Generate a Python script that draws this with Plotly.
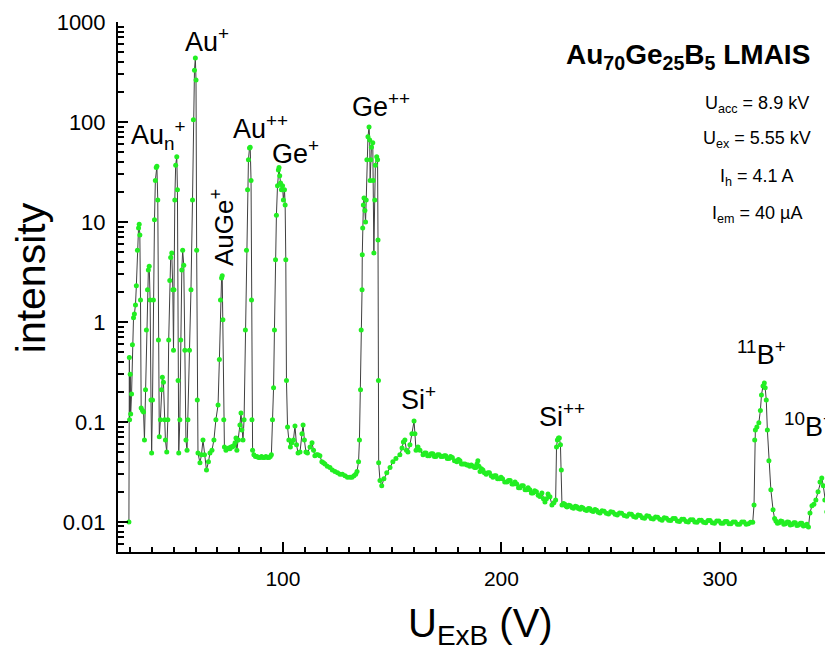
import math
import plotly.graph_objects as go

# ---- spectrum data (U_ExB in V, intensity) ----
aun_x = [29.5, 29.7, 29.8, 30.1, 30.3, 30.7, 31.1, 31.6, 32.0, 32.5, 32.9, 33.4, 33.9, 34.2, 34.5,
         34.8, 35.1, 35.7, 36.2, 36.6, 37.1, 37.5, 38.0, 38.4, 38.8, 39.2, 39.6, 39.9, 40.3, 40.7,
         41.2, 41.6, 42.0, 42.3, 42.7, 43.0, 43.4, 43.9, 44.4, 44.8, 45.3, 45.8, 46.2, 46.8, 47.3,
         47.7, 48.2, 48.6, 49.1, 49.6, 49.9, 50.1, 50.5, 50.9, 51.4, 51.7, 52.0, 52.3, 52.8, 53.2,
         53.7, 54.1, 54.6, 55.1, 55.6, 56.1, 56.5, 57.2, 57.9, 58.6, 59.0, 59.5, 59.9, 60.2, 60.5,
         60.8, 61.1]
aun_y = [0.01, 0.44, 0.105, 0.3, 0.12, 0.19, 0.59, 1.1, 1.2, 1.48, 2.3, 5.2, 8.7, 9.5, 7.4,
         1.66, 0.138, 0.13, 0.126, 0.066, 0.21, 0.83, 2.1, 3.3, 3.6, 1.66, 0.166, 0.049, 0.166, 1.66,
         10.5, 26, 35, 36, 16.6, 0.66, 0.071, 0.105, 0.21, 0.28, 0.25, 0.105, 0.066, 0.05, 0.105,
         0.66, 2.6, 4.4, 4.9, 2.1, 0.52, 2.1, 16.6, 37, 45, 21, 0.26, 0.049, 0.105, 0.66,
         3.3, 5.2, 3.7, 0.52, 0.066, 0.052, 0.105, 0.52, 2.1, 16.6, 105, 330, 437, 263, 5.2,
         0.166, 0.049]

auge_x = [62.0, 62.7, 63.4, 64.1, 65.0, 65.9, 66.6, 67.5, 68.4, 69.3, 70.3, 70.9, 71.4, 71.9, 72.2,
          72.5, 72.9, 73.2, 73.9, 74.5, 75.2, 75.7, 76.2, 76.7, 77.2, 77.6, 78.1, 78.5, 78.9, 79.6,
          80.3, 80.8, 81.2, 81.7, 82.2, 82.8, 83.3, 83.8, 84.2, 84.7, 85.0, 85.4, 85.6, 85.8, 86.1]
auge_y = [0.039, 0.047, 0.066, 0.047, 0.033, 0.04, 0.049, 0.052, 0.066, 0.105, 0.148, 0.42, 1.66, 2.75, 2.9,
          1.05, 0.105, 0.056, 0.052, 0.054, 0.055, 0.054, 0.056, 0.056, 0.057, 0.058, 0.062, 0.069, 0.052, 0.066,
          0.093, 0.123, 0.083, 0.066, 0.105, 0.83, 5.2, 21, 42, 55, 56, 26, 1.66, 0.105, 0.052]

ge1_x = [86.7, 87.4, 88.1, 88.8, 89.5, 90.2, 90.8, 91.5, 92.2, 92.9, 93.6, 94.2, 94.7, 95.2, 95.7,
         96.1, 96.6, 97.0, 97.5, 97.9, 98.2, 98.5, 98.9, 99.3, 99.8, 100.2, 100.7, 101.0, 101.3, 101.6]
ge1_y = [0.047, 0.045, 0.045, 0.044, 0.044, 0.045, 0.044, 0.044, 0.045, 0.044, 0.044, 0.045, 0.047, 0.105, 0.22,
         0.83, 4.2, 11.7, 23, 33, 35, 29, 24.5, 21, 23, 16.6, 21, 14.8, 4.2, 0.26]

tail_x = [102.1, 102.7, 103.4, 104.1, 104.8, 105.5, 106.2, 106.9, 107.8, 108.7, 109.2, 109.8, 110.5,
          111.2, 112.4, 113.3, 114.0, 114.6, 115.3, 116.0, 116.9, 117.8, 118.5, 119.2, 120.3, 121.5,
          122.6, 123.8, 125.0, 126.1, 127.2, 128.4, 129.5, 130.7, 131.6, 132.5, 133.3, 133.9, 134.6]
tail_y = [0.089, 0.066, 0.056, 0.062, 0.066, 0.091, 0.059, 0.049, 0.05, 0.076, 0.093, 0.066, 0.05,
          0.049, 0.056, 0.062, 0.052, 0.046, 0.047, 0.047, 0.046, 0.04, 0.039, 0.038, 0.036, 0.035,
          0.033, 0.032, 0.031, 0.030, 0.030, 0.029, 0.028, 0.028, 0.028, 0.029, 0.030, 0.032, 0.04]

ge2_x = [135.0, 135.5, 135.8, 136.2, 136.3, 136.5, 136.8, 137.1, 137.5, 137.8, 138.1, 138.4, 138.9, 139.4,
         139.7, 139.9, 140.2, 140.5, 141.1, 141.3, 141.6, 142.0, 142.3, 142.9, 143.3, 143.5, 143.7, 143.8,
         144.4, 145.2, 146.2, 147.5, 149.0, 150.3, 151.7, 153.5, 154.5, 155.1, 155.8, 156.5, 157.2, 158.1,
         159.0, 160.0, 160.4, 160.9, 161.8, 162.7]
ge2_y = [0.066, 0.21, 0.83, 2.1, 4.7, 8.7, 14.8, 17.4, 13, 10, 16.6, 42, 71, 89,
         66, 26, 42, 56, 62, 26, 4.9, 16.6, 37, 45, 42, 6.6, 0.26, 0.039,
         0.026, 0.023, 0.027, 0.031, 0.035, 0.04, 0.043, 0.047, 0.055, 0.063, 0.066, 0.052, 0.05, 0.059,
         0.076, 0.102, 0.076, 0.052, 0.056, 0.052]

# noisy background between Si+ and Si++  (x, intensity)
base1 = [(164.1, 0.047), (164.8, 0.049), (165.5, 0.049), (166.2, 0.046), (167.0, 0.046), (167.8, 0.048),
         (168.6, 0.048), (169.3, 0.045), (170.0, 0.045), (170.7, 0.047), (171.5, 0.047), (172.3, 0.045),
         (173.2, 0.045), (173.8, 0.046), (174.5, 0.046), (175.2, 0.043), (176.0, 0.043), (176.7, 0.045),
         (177.5, 0.044), (178.5, 0.041), (179.6, 0.040), (180.3, 0.042), (181.0, 0.041), (181.7, 0.038),
         (182.5, 0.038), (183.3, 0.038), (184.2, 0.037), (184.8, 0.037), (185.5, 0.036), (186.2, 0.037),
         (187.0, 0.036), (187.7, 0.035), (188.3, 0.035), (188.8, 0.038), (189.2, 0.041), (189.7, 0.036),
         (190.2, 0.032), (190.8, 0.034), (191.5, 0.033), (192.2, 0.031), (193.0, 0.030), (193.8, 0.031),
         (194.5, 0.031), (195.3, 0.029), (196.1, 0.028), (196.8, 0.029), (197.5, 0.029), (198.2, 0.027),
         (199.0, 0.027), (199.8, 0.028), (200.5, 0.027), (201.5, 0.025), (202.5, 0.025), (203.2, 0.026),
         (204.0, 0.026), (204.8, 0.024), (205.5, 0.024), (206.2, 0.025), (207.0, 0.024), (207.8, 0.022),
         (208.5, 0.022), (209.2, 0.023), (210.0, 0.023), (210.8, 0.021), (211.5, 0.021), (212.2, 0.022),
         (213.0, 0.021), (213.7, 0.0195), (214.4, 0.0195), (215.2, 0.0205), (216.0, 0.0200), (216.8, 0.0185),
         (217.6, 0.018), (218.5, 0.0195), (219.2, 0.017), (219.9, 0.0158), (220.6, 0.017), (221.3, 0.019),
         (222.2, 0.0178), (223.1, 0.0148), (224.0, 0.0155), (224.8, 0.0166)]

# Si++ peak and background up to the 11B peak  (x, intensity)
base2 = [(225.2, 0.056), (225.6, 0.066), (226.1, 0.069), (226.5, 0.069), (227.0, 0.059), (227.4, 0.033),
         (227.7, 0.0148), (228.4, 0.0153), (229.0, 0.0150), (229.5, 0.0144), (230.0, 0.0141), (230.8, 0.0147),
         (231.5, 0.0145), (232.2, 0.0139), (233.0, 0.0137), (233.8, 0.0143), (234.5, 0.0142), (235.2, 0.0136),
         (236.0, 0.0134), (236.6, 0.0140), (237.3, 0.0138), (238.2, 0.0132), (239.0, 0.0130), (239.8, 0.0136),
         (240.5, 0.0135), (241.2, 0.0129), (242.0, 0.0127), (242.8, 0.0133), (243.5, 0.0131), (244.3, 0.0125),
         (245.1, 0.0123), (246.0, 0.0129), (247.0, 0.0128), (248.0, 0.0122), (249.0, 0.0120), (250.0, 0.0126),
         (251.0, 0.0125), (252.0, 0.0119), (253.0, 0.0117), (254.0, 0.0123), (255.0, 0.0122), (256.2, 0.0116),
         (257.4, 0.0114), (258.5, 0.0120), (259.5, 0.0119), (260.5, 0.0113), (261.5, 0.0111), (262.5, 0.0117),
         (263.5, 0.0116), (264.5, 0.0110), (265.5, 0.0109), (266.5, 0.0115), (267.5, 0.0114), (268.5, 0.0108),
         (269.5, 0.0107), (270.5, 0.0112), (271.5, 0.0111), (272.5, 0.0106), (273.5, 0.0104), (274.5, 0.0110),
         (275.5, 0.0109), (276.5, 0.0104), (277.5, 0.0103), (278.5, 0.0108), (279.5, 0.0108), (280.5, 0.0102),
         (281.5, 0.0101), (282.5, 0.0106), (283.5, 0.0106), (284.5, 0.0101), (285.5, 0.0100), (286.5, 0.0105),
         (287.6, 0.0105), (288.5, 0.0100), (289.5, 0.0099), (290.5, 0.0104), (291.5, 0.0104), (292.5, 0.0099),
         (293.5, 0.0098), (294.5, 0.0103), (295.5, 0.0103), (296.5, 0.0098), (297.5, 0.0097), (298.5, 0.0102),
         (299.5, 0.0102), (300.5, 0.0097), (301.5, 0.0097), (302.3, 0.0101), (303.2, 0.0101), (304.1, 0.0096),
         (305.0, 0.0096), (306.0, 0.0100), (307.0, 0.0100), (308.0, 0.0095), (309.0, 0.0095), (310.0, 0.0100),
         (311.0, 0.0100), (312.0, 0.0095), (313.0, 0.0096), (314.0, 0.0099), (315.0, 0.0099)]

# 11B and 10B peaks  (x, intensity)
boron = [(315.6, 0.0148), (315.9, 0.066), (316.2, 0.083), (316.9, 0.089), (317.8, 0.098), (318.5, 0.13),
         (319.0, 0.186), (319.7, 0.229), (320.3, 0.245), (320.7, 0.22), (321.2, 0.166), (321.7, 0.083),
         (322.4, 0.041), (323.3, 0.021), (324.3, 0.0132), (325.0, 0.0108), (325.6, 0.0102), (326.3, 0.0097),
         (327.0, 0.0098), (327.8, 0.0102), (328.5, 0.0101), (329.2, 0.0095), (330.0, 0.0096), (330.8, 0.0100),
         (331.5, 0.0099), (332.2, 0.0093), (333.0, 0.0094), (333.8, 0.0098), (334.5, 0.0098), (335.2, 0.0092),
         (336.0, 0.0093), (336.8, 0.0097), (337.5, 0.0097), (338.2, 0.0091), (339.0, 0.0092), (339.8, 0.0095),
         (340.5, 0.0089), (341.2, 0.0123), (342.1, 0.0145), (343.0, 0.015), (343.9, 0.0166), (344.9, 0.02),
         (345.8, 0.025), (346.6, 0.0275), (347.3, 0.023), (348.0, 0.0166), (348.9, 0.0126), (349.8, 0.01),
         (350.7, 0.0105), (351.6, 0.0098), (352.8, 0.0096), (354.0, 0.0094)]

base1_x, base1_y = [p[0] for p in base1], [p[1] for p in base1]
base2_x, base2_y = [p[0] for p in base2], [p[1] for p in base2]
boron_x, boron_y = [p[0] for p in boron], [p[1] for p in boron]

# peak labels: (text, x, intensity)
peak_labels = [
    ("Au<sup>+</sup>", 65.2, 661),
    ("Au<sub>n</sub><sup>+</sup>", 43.0, 74),
    ("Au<sup>++</sup>", 89.5, 89),
    ("Ge<sup>+</sup>", 105.9, 50),
    ("Ge<sup>++</sup>", 144.9, 148),
    ("Si<sup>+</sup>", 162.2, 0.174),
    ("Si<sup>++</sup>", 227.7, 0.117),
    ("<sup>11</sup>B<sup>+</sup>", 319.2, 0.49),
]
auge_label = ("AuGe<sup>+</sup>", 72.1, 8.7)
b10_label = ("<sup>10</sup>B<sup>+</sup>", 328.3, 0.093)

title_text = "<b>Au<sub>70</sub>Ge<sub>25</sub>B<sub>5</sub> LMAIS</b>"
param_texts = ["U<sub>acc</sub> = 8.9 kV", "U<sub>ex</sub> = 5.55 kV",
               "I<sub>h</sub> = 4.1 A", "I<sub>em</sub> = 40 µA"]

y_tick_vals = [0.01, 0.1, 1, 10, 100, 1000]
y_tick_text = ["0.01", "0.1", "1", "10", "100", "1000"]
x_tick_vals = [100, 200, 300]

xs = aun_x + auge_x + ge1_x + tail_x + ge2_x + base1_x + base2_x + boron_x
ys = aun_y + auge_y + ge1_y + tail_y + ge2_y + base1_y + base2_y + boron_y

FONT = "Liberation Sans, Arial, sans-serif"

fig = go.Figure()
fig.add_trace(go.Scatter(
    x=xs, y=ys, mode="lines+markers",
    line=dict(color="#404040", width=1),
    marker=dict(color="#22ee22", size=5, line=dict(width=0)),
    showlegend=False, hoverinfo="x+y",
))

minor_y = [m * 10 ** e for e in range(-3, 3) for m in range(2, 10)]
minor_y = [v for v in minor_y if 0.005 <= v <= 1000]
minor_x = [v for v in range(30, 360, 10) if v % 100 != 0]

fig.update_xaxes(
    range=[24.5, 355.4], showline=True, linecolor="black", linewidth=2,
    tickvals=x_tick_vals, ticks="inside", ticklen=10, tickwidth=1.5, tickcolor="black",
    tickfont=dict(family=FONT, size=21, color="black"), ticklabelstandoff=7,
    minor=dict(tickvals=minor_x, ticks="inside", ticklen=5, tickwidth=1.5, tickcolor="black"),
    showgrid=False, zeroline=False, mirror=False,
)
fig.update_yaxes(
    type="log", range=[math.log10(0.005), 3.0], showline=True, linecolor="black", linewidth=2,
    tickvals=y_tick_vals, ticktext=y_tick_text, ticks="inside", ticklen=10, tickwidth=1.5,
    tickcolor="black", tickfont=dict(family=FONT, size=22, color="black"), ticklabelstandoff=6,
    minor=dict(tickvals=minor_y, ticks="inside", ticklen=6, tickwidth=1.5, tickcolor="black"),
    showgrid=False, zeroline=False, mirror=False,
)

annotations = []
for txt, xv, yv in peak_labels:
    annotations.append(dict(text=txt, x=xv, y=math.log10(yv), xref="x", yref="y",
                            showarrow=False, xanchor="center", yanchor="middle",
                            font=dict(family=FONT, size=27, color="black")))
annotations.append(dict(text=auge_label[0], x=auge_label[1], y=math.log10(auge_label[2]),
                        xref="x", yref="y", showarrow=False, textangle=-90,
                        xanchor="center", yanchor="middle",
                        font=dict(family=FONT, size=26, color="black")))
annotations.append(dict(text=b10_label[0], x=b10_label[1], y=math.log10(b10_label[2]),
                        xref="x", yref="y", showarrow=False, xanchor="left", yanchor="middle",
                        font=dict(family=FONT, size=27, color="black")))
annotations.append(dict(text=title_text, x=0.960, y=0.934, xref="paper", yref="paper",
                        showarrow=False, xanchor="right", yanchor="middle",
                        font=dict(family=FONT, size=28, color="black")))
for txt, yp in zip(param_texts, [0.845, 0.779, 0.707, 0.637]):
    annotations.append(dict(text=txt, x=0.884, y=yp, xref="paper", yref="paper",
                            showarrow=False, xanchor="center", yanchor="middle",
                            font=dict(family=FONT, size=18, color="black")))
# axis titles
annotations.append(dict(text="intensity", x=-0.120, y=0.517, xref="paper", yref="paper",
                        showarrow=False, textangle=-90, xanchor="center", yanchor="middle",
                        font=dict(family=FONT, size=41, color="black")))
annotations.append(dict(text="U<sub>ExB</sub> (V)", x=0.501, y=-0.14, xref="paper", yref="paper",
                        showarrow=False, xanchor="center", yanchor="middle",
                        font=dict(family=FONT, size=40, color="black")))

fig.update_layout(
    width=833, height=650,
    margin=dict(l=110, r=0, t=14, b=106),
    paper_bgcolor="white", plot_bgcolor="white",
    annotations=annotations,
    font=dict(family=FONT, color="black"),
)

fig.write_html("out.html")
